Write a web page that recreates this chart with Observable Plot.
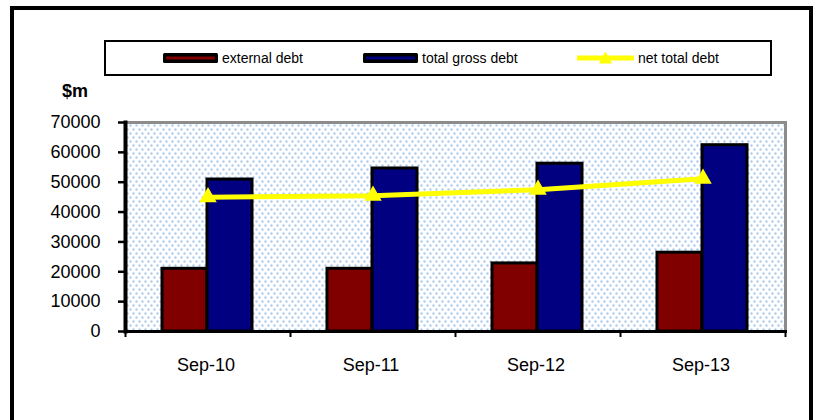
<!DOCTYPE html>
<html><head><meta charset="utf-8">
<script src="https://cdn.jsdelivr.net/npm/d3@7"></script>
<script src="https://cdn.jsdelivr.net/npm/@observablehq/plot@0.6"></script>
<style>
html,body{margin:0;padding:0;background:#fff;overflow:hidden;}
#wrap{position:relative;width:818px;height:420px;overflow:hidden;font-family:Arial,"Liberation Sans",sans-serif;color:#000;}
#frame{position:absolute;left:10px;top:6px;width:803px;height:440px;box-sizing:border-box;border:4px solid #000;border-bottom:none;}
#legend{position:absolute;left:104px;top:40px;width:668px;height:36px;box-sizing:border-box;border:2px solid #000;}
.item{position:absolute;top:0;height:32px;display:flex;align-items:center;font-size:14px;white-space:nowrap;}
.item svg{display:block;margin-right:4px;}
#unit{position:absolute;left:62px;top:81px;font-weight:bold;font-size:18px;line-height:20px;}
#chart{position:absolute;left:0;top:0;}
</style></head><body>
<svg width="0" height="0" style="position:absolute">
  <defs>
    <pattern id="dots" patternUnits="userSpaceOnUse" width="6" height="8">
      <rect x="0" y="0" width="6" height="8" fill="#ffffff"/>
      <rect x="0" y="0" width="2" height="2" fill="#9cc2ef"/>
      <rect x="3" y="4" width="2" height="2" fill="#9cc2ef"/>
    </pattern>
  </defs>
</svg>
<div id="wrap">
  <div id="frame"></div>
  <div id="chart"></div>
  <div id="legend"></div>
  <div id="unit">$m</div>
</div>
<script>
const categories = ["Sep-10", "Sep-11", "Sep-12", "Sep-13"];
const externalDebt = [21000, 21000, 22800, 26400];
const totalGrossDebt = [50900, 54600, 56200, 62400];
const netTotalDebt = [45000, 45500, 47500, 51200];
const yTicks = [0, 10000, 20000, 30000, 40000, 50000, 60000, 70000];
const seriesNames = ["external debt", "total gross debt", "net total debt"];
const seriesColors = ["#800000", "#000080", "#ffff00"];

const rows = categories.map((c, i) => ({
  period: c,
  external: externalDebt[i],
  gross: totalGrossDebt[i],
  net: netTotalDebt[i]
}));

const chart = Plot.plot({
  width: 818,
  height: 420,
  marginLeft: 125,
  marginRight: 33,
  marginTop: 122,
  marginBottom: 89,
  style: {background: "transparent", fontFamily: "Arial, 'Liberation Sans', sans-serif", fontSize: "18px", color: "#000"},
  x: {domain: categories, padding: 0, label: null},
  y: {domain: [0, 70000], label: null},
  marks: [
    Plot.frame({fill: "url(#dots)", stroke: null}),
    Plot.frame({anchor: "top", stroke: "#8c8c8c", strokeWidth: 3}),
    Plot.frame({anchor: "right", stroke: "#8c8c8c", strokeWidth: 3}),
    Plot.barY(rows, {x: "period", y: "external", fill: seriesColors[0], stroke: "#000", strokeWidth: 3, insetLeft: 37, insetRight: 83}),
    Plot.barY(rows, {x: "period", y: "gross", fill: seriesColors[1], stroke: "#000", strokeWidth: 3, insetLeft: 82, insetRight: 38}),
    Plot.line(rows, {x: "period", y: "net", stroke: seriesColors[2], strokeWidth: 5}),
    Plot.dot(rows, {x: "period", y: "net", symbol: "triangle", r: 6.5, fill: seriesColors[2], stroke: null}),
    Plot.frame({anchor: "left", stroke: "#000", strokeWidth: 4}),
    Plot.frame({anchor: "bottom", stroke: "#000", strokeWidth: 3}),
    Plot.axisY({ticks: yTicks, tickFormat: d => String(d), tickSize: 7, tickPadding: 18, strokeWidth: 2.5, stroke: "#000", fill: "#000", fontSize: 18, label: null}),
    Plot.axisX({tickSize: 0, tickPadding: 27, fontSize: 18, fill: "#000", label: null, dx: -2}),
    Plot.axisX({text: null, tickSize: 6, dx: -82.5, strokeWidth: 2, stroke: "#000", label: null}),
    Plot.axisX({ticks: [categories[3]], text: null, tickSize: 6, dx: 82.5, strokeWidth: 2, stroke: "#000", label: null})
  ]
});
document.getElementById("chart").appendChild(chart);

// Legend
const legend = document.getElementById("legend");
const legendLeft = [57, 257, 471];
seriesNames.forEach((name, i) => {
  const item = document.createElement("div");
  item.className = "item";
  item.style.left = legendLeft[i] + "px";
  let sw;
  if (i < 2) {
    sw = `<svg width="55" height="10"><rect x="0" y="0" width="55" height="10" rx="1.5" fill="#000"/><rect x="3" y="3.5" width="49" height="3" fill="${seriesColors[i]}"/></svg>`;
  } else {
    sw = `<svg width="57" height="16"><line x1="0" x2="57" y1="8" y2="8" stroke="${seriesColors[i]}" stroke-width="5"/><path d="M28.5,1.5 L35,13.5 L22,13.5 Z" fill="${seriesColors[i]}"/></svg>`;
  }
  item.innerHTML = sw + `<span>${name}</span>`;
  legend.appendChild(item);
});
</script>
</body></html>
